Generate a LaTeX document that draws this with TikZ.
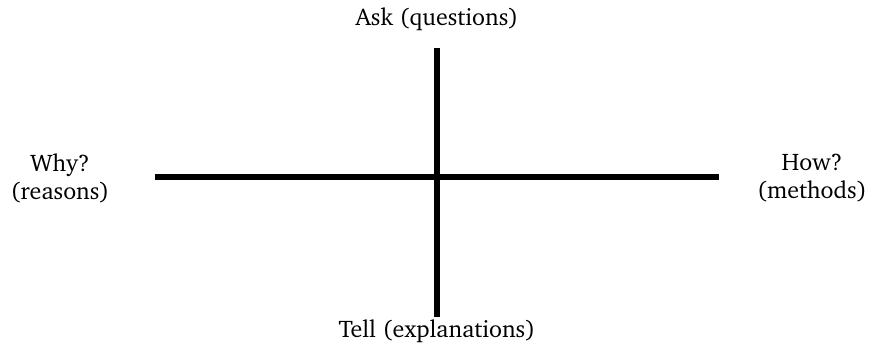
\documentclass[tikz,border=0pt]{standalone}
\usepackage[T1]{fontenc}
\renewcommand{\rmdefault}{bch}
\tikzset{
  axis/.style={line width=5.5pt},
  lbl/.style={font=\fontsize{24}{28}\selectfont, align=center, inner sep=0pt}
}
\begin{document}
\begin{tikzpicture}[x=1pt,y=-1pt]
\useasboundingbox (0,0) rectangle (869,348);
\coordinate (top) at (437,48);
\coordinate (bot) at (437,317);
\coordinate (lft) at (155,177);
\coordinate (rgt) at (719,177);
\draw[axis] (top) -- (bot);
\draw[axis] (lft) -- (rgt);
\node[lbl] (ask) at (437,19) {Ask (questions)};
\node[lbl] (tell) at (437,331) {Tell (explanations)};
\node[lbl] (why) at (60,178) {Why?\\(reasons)};
\node[lbl] (how) at (812,178) {How?\\(methods)};
\end{tikzpicture}
\end{document}
